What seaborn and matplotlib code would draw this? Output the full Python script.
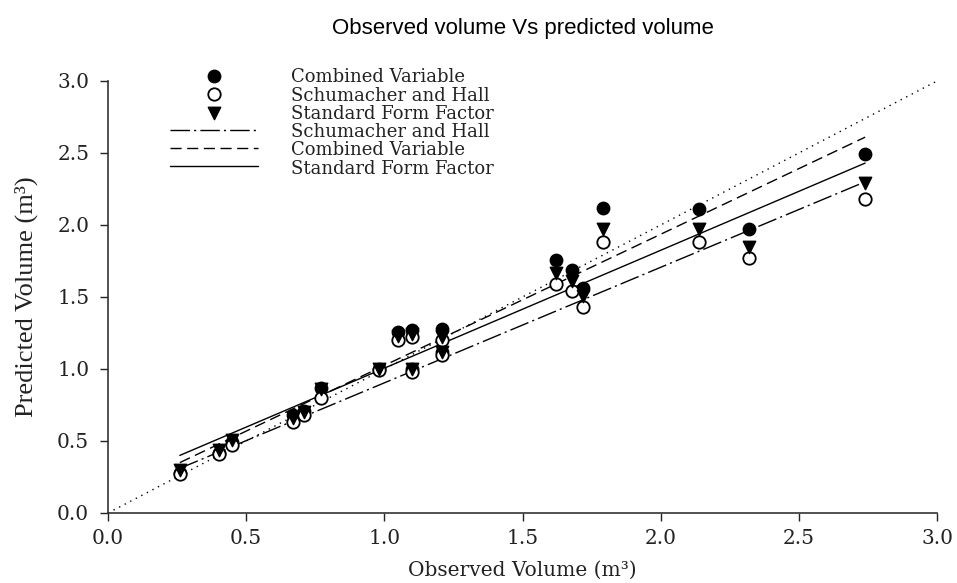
import matplotlib
matplotlib.use("Agg")
import matplotlib.pyplot as plt
import seaborn as sns
import pandas as pd

# ---- data ----
observed = [0.26, 0.40, 0.45, 0.67, 0.71, 0.77, 0.98, 1.05, 1.10, 1.10,
            1.21, 1.21, 1.62, 1.68, 1.72, 1.79, 2.14, 2.32, 2.74]
combined_variable = [0.28, 0.42, 0.49, 0.68, 0.71, 0.87, 1.00, 1.26, 1.27, 1.00,
                     1.28, 1.12, 1.76, 1.69, 1.56, 2.12, 2.11, 1.97, 2.49]
schumacher_hall = [0.27, 0.41, 0.47, 0.63, 0.68, 0.80, 0.99, 1.20, 1.22, 0.98,
                   1.20, 1.10, 1.59, 1.54, 1.43, 1.88, 1.88, 1.77, 2.18]
standard_form = [0.30, 0.44, 0.51, 0.66, 0.70, 0.86, 1.00, 1.23, 1.24, 1.00,
                 1.22, 1.12, 1.67, 1.61, 1.51, 1.97, 1.97, 1.85, 2.29]

fit_x = [0.26, 2.74]
fit_sh = [0.31, 2.30]
fit_cv = [0.35, 2.61]
fit_sff = [0.40, 2.43]
diag_x = [0.0, 3.0]
diag_y = [0.0, 3.0]

ticks = [0.0, 0.5, 1.0, 1.5, 2.0, 2.5, 3.0]
tick_labels = ["0.0", "0.5", "1.0", "1.5", "2.0", "2.5", "3.0"]

df = pd.DataFrame({"obs": observed, "cv": combined_variable,
                   "sh": schumacher_hall, "sff": standard_form})

sns.set_style("ticks")
plt.rcParams["font.family"] = ["DejaVu Serif"]

fig = plt.figure(figsize=(9.57, 5.83), dpi=100)
ax = fig.add_axes([108/957, 1-513/583, (937-108)/957, (513-81)/583])

# 1:1 line
sns.lineplot(x=diag_x, y=diag_y, ax=ax, color="black", lw=1.0, zorder=1)
ax.lines[-1].set_dashes((1, 3.5))

sns.lineplot(x=fit_x, y=fit_sh, ax=ax, color="black", lw=1.0, zorder=2)
l_sh = ax.lines[-1]
l_sh.set_dashes((14, 3, 1.5, 3))
sns.lineplot(x=fit_x, y=fit_cv, ax=ax, color="black", lw=1.0, zorder=2)
l_cv = ax.lines[-1]
l_cv.set_dashes((8, 4))
sns.lineplot(x=fit_x, y=fit_sff, ax=ax, color="black", lw=1.0, zorder=2)
l_sff = ax.lines[-1]

n0 = len(ax.collections)
sns.scatterplot(data=df, x="obs", y="cv", ax=ax, marker="o", s=80,
                color="black", edgecolor="black", linewidth=1.0, zorder=3)
s_cv = ax.collections[n0]
n0 = len(ax.collections)
sns.scatterplot(data=df, x="obs", y="sh", ax=ax, marker="o", s=80,
                facecolor="white", edgecolor="black", linewidth=1.3, zorder=4)
s_sh = ax.collections[n0]
n0 = len(ax.collections)
sns.scatterplot(data=df, x="obs", y="sff", ax=ax, marker="v", s=80,
                color="black", edgecolor="black", linewidth=1.0, zorder=5)
s_sff = ax.collections[n0]

ax.set_xlim(0, 3)
ax.set_ylim(0, 3)
ax.set_xticks(ticks)
ax.set_xticklabels(tick_labels)
ax.set_yticks(ticks)
ax.set_yticklabels(tick_labels)
ax.tick_params(axis="both", labelsize=14.5, length=5.5, width=1.0,
               direction="out", colors="#222222")
ax.tick_params(axis="x", pad=6)
ax.tick_params(axis="y", pad=8)
for side in ["top", "right"]:
    ax.spines[side].set_visible(False)
for side in ["left", "bottom"]:
    ax.spines[side].set_linewidth(1.2)
    ax.spines[side].set_color("#333333")

ax.set_xlabel("Observed Volume (m³)", fontsize=14.5, family="DejaVu Serif",
              labelpad=9, color="#222222")
ax.set_ylabel("Predicted Volume (m³)", fontsize=19, family="Liberation Serif",
              labelpad=14, color="#222222")
ax.set_title("Observed volume Vs predicted volume", fontsize=16,
             family="Liberation Sans", pad=34, color="black")

handles = [s_cv, s_sh, s_sff, l_sh, l_cv, l_sff]
labels = ["Combined Variable", "Schumacher and Hall", "Standard Form Factor",
          "Schumacher and Hall", "Combined Variable", "Standard Form Factor"]
leg = ax.legend(handles, labels, loc="upper left",
                bbox_to_anchor=(170/957, 1-68/583), bbox_transform=fig.transFigure,
                frameon=False, fontsize=13, borderpad=0, borderaxespad=0,
                handlelength=4.9, handletextpad=1.8, labelspacing=0.0,
                handleheight=1.0, scatterpoints=1)
for t in leg.get_texts():
    t.set_color("#222222")

fig.savefig("out.png", dpi=100)
